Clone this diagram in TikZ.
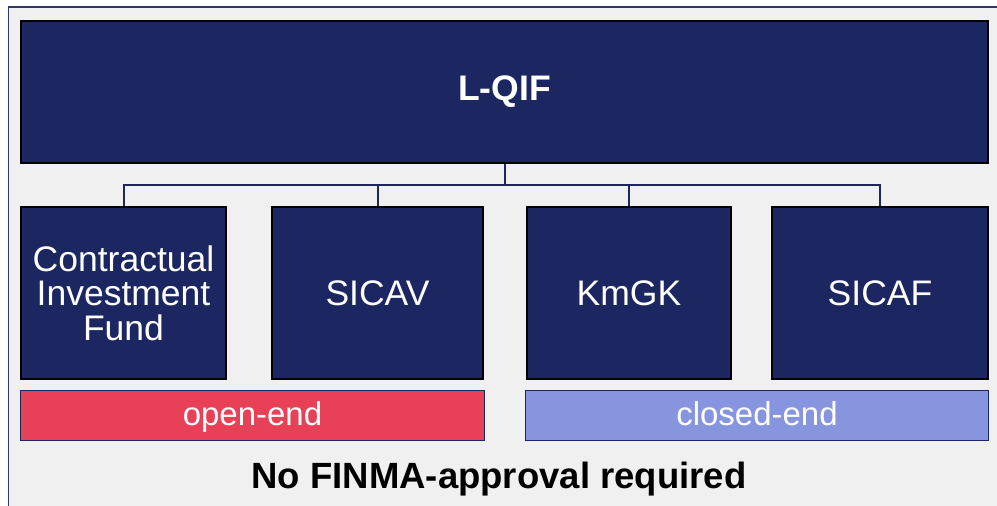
\documentclass[tikz,border=0pt]{standalone}
\usepackage{fontspec}
\setmainfont{Liberation Sans}
\definecolor{fundnavy}{RGB}{28,39,97}
\definecolor{openred}{RGB}{232,64,87}
\definecolor{closedblue}{RGB}{135,149,222}
\definecolor{panelgray}{RGB}{240,240,240}
\definecolor{framenavy}{RGB}{46,56,110}
\begin{document}
\begin{tikzpicture}[
            x=1pt, y=-1pt,
            every node/.style={inner sep=0pt, text=white},
            fundbox/.style={rectangle, draw=black, line width=2.8pt, fill=fundnavy,
                font=\fontsize{35.5}{34.5}\selectfont, align=center},
            typebar/.style={rectangle, draw=fundnavy, line width=1.2pt,
                minimum height=50pt, text height=28pt, text depth=9pt,
                font=\fontsize{33}{33}\selectfont},
            conn/.style={draw=fundnavy, line width=2pt}
        ]
        \useasboundingbox (0,0) rectangle (997,506);
        \fill[panelgray] (8.5,7) rectangle (1010,520);
        \draw[framenavy, line width=1.8pt] (8.5,7) rectangle (1010,520);

        % top level
        \node[fundbox, minimum width=967pt, minimum height=142pt,
            font=\fontsize{35.5}{35}\selectfont\bfseries] (lqif) at (504.5,92) {L-QIF};

        % fund types
        \node[fundbox, minimum width=205pt, minimum height=172pt] (cif) at (123.5,293)
            {Contractual\\Investment\\Fund};
        \node[fundbox, minimum width=211pt, minimum height=172pt] (sicav) at (377.5,293) {SICAV};
        \node[fundbox, minimum width=204pt, minimum height=172pt] (kmgk) at (629,293) {KmGK};
        \node[fundbox, minimum width=216pt, minimum height=172pt] (sicaf) at (880,293) {SICAF};

        \coordinate (bus) at (504.5,185);
        \draw[conn] (lqif.south) -- (bus);
        \foreach \n in {cif,sicav,kmgk,sicaf}
            \draw[conn] (bus) -| (\n.north);

        % open / closed
        \node[typebar, fill=openred, minimum width=464pt] (openend) at (252.5,415.5) {open-end};
        \node[typebar, fill=closedblue, minimum width=463pt] (closedend) at (757,415.5) {closed-end};

        \node[text=black, anchor=base, font=\fontsize{36.5}{36.5}\selectfont\bfseries] (approval)
            at (499,488) {No FINMA-approval required};

        \end{tikzpicture}
\end{document}
